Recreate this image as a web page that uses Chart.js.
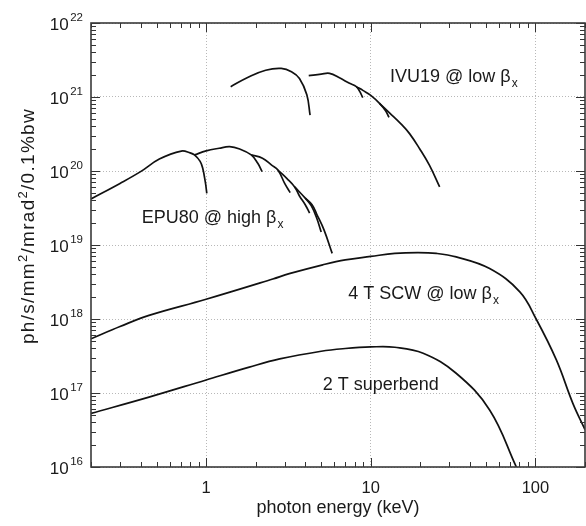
<!DOCTYPE html>
<html><head><meta charset="utf-8">
<script src="https://cdn.jsdelivr.net/npm/chart.js@4.4.1/dist/chart.umd.min.js"></script>
<style>html,body{margin:0;padding:0;background:#fff}#wrap{width:586px;height:526px;position:relative}</style>
</head><body><div id="wrap"><canvas id="c" width="586" height="526"></canvas></div>
<script>
// ---- axis ticks ----
const xDecades = [1, 10, 100];
const xTickLabels = ['1', '10', '100'];
const yDecades = [1e16, 1e17, 1e18, 1e19, 1e20, 1e21, 1e22];
const yExponents = ['16', '17', '18', '19', '20', '21', '22'];
const xTitle = 'photon energy (keV)';

// ---- EPU80 harmonics (photon energy keV, brightness) ----
const epu1E = [0.2, 0.3, 0.4, 0.52, 0.707, 0.8, 0.85, 0.92, 0.954, 0.99, 1.01];
const epu1B = [4.2e19, 6.8e19, 9.8e19, 1.45e20, 1.86e20, 1.76e20, 1.65e20, 1.35e20, 1.09e20, 7.0e19, 5.0e19];
const epu2E = [0.85, 1.0, 1.2, 1.39, 1.6, 1.88, 2.06, 2.19];
const epu2B = [1.65e20, 1.87e20, 2.03e20, 2.13e20, 1.98e20, 1.65e20, 1.27e20, 9.8e19];
const epu3E = [1.88, 2.2, 2.5, 2.73, 3.0, 3.24];
const epu3B = [1.65e20, 1.49e20, 1.2e20, 1.03e20, 6.8e19, 5.1e19];
const epu4E = [2.73, 3.1, 3.45, 3.69, 4.0, 4.25];
const epu4B = [1.03e20, 7.9e19, 6.1e19, 4.6e19, 3.5e19, 2.7e19];
const epu5E = [3.45, 4.0, 4.35, 4.7, 5.0];
const epu5B = [6.1e19, 4.3e19, 3.4e19, 2.3e19, 1.5e19];
const epu6E = [4.0, 4.4, 4.7, 5.2, 5.83];
const epu6B = [4.3e19, 3.5e19, 2.6e19, 1.6e19, 7.7e18];

// ---- IVU19 harmonics ----
const ivu1E = [1.41, 1.8, 2.3, 2.86, 3.3, 3.69, 4.09, 4.28];
const ivu1B = [1.38e21, 1.85e21, 2.3e21, 2.43e21, 2.2e21, 1.78e21, 1.07e21, 5.7e20];
const ivu2E = [4.2, 5.0, 5.62, 6.5, 7.43, 8.17, 8.55, 8.94];
const ivu2B = [1.94e21, 2.04e21, 2.09e21, 1.8e21, 1.53e21, 1.38e21, 1.2e21, 9.8e20];
const ivu3E = [8.17, 9.0, 10, 11.3, 12.3, 12.9];
const ivu3B = [1.38e21, 1.22e21, 1.05e21, 8.2e20, 6.5e20, 5.3e20];
const ivu4E = [11.3, 13, 15.3, 17.2, 19.8, 22.7, 26.2];
const ivu4B = [8.2e20, 6.1e20, 4.3e20, 3.2e20, 2.0e20, 1.2e20, 6.1e19];

// ---- 4 T superconducting wiggler ----
const scwE = [0.2, 0.3, 0.45, 1, 2.54, 3.2, 5.11, 7, 10, 14, 19.3, 25, 33, 52.7, 80.4, 101, 134, 169, 200];
const scwB = [5.4e17, 7.9e17, 1.12e18, 1.85e18, 3.47e18, 4.1e18, 5.4e18, 6.3e18, 7.0e18, 7.7e18, 7.9e18, 7.7e18, 6.9e18, 4.8e18, 2.33e18, 1.0e18, 2.8e17, 7.2e16, 3.2e16];

// ---- 2 T superbend ----
const sbE = [0.2, 0.45, 1, 1.83, 2.8, 5, 7, 10, 14, 20.8, 33, 52.7, 76.6];
const sbB = [5.3e16, 8.8e16, 1.5e17, 2.24e17, 2.89e17, 3.67e17, 3.99e17, 4.19e17, 4.15e17, 3.45e17, 1.85e17, 5.9e16, 1.0e16];

// ---- labels ----
const curveLabels = [
  {text: 'IVU19 @ low β', sub: 'x', x: 390, y: 82},
  {text: 'EPU80 @ high β', sub: 'x', x: 141.7, y: 223.3},
  {text: '4 T SCW @ low β', sub: 'x', x: 348.3, y: 299.3},
  {text: '2 T superbend', sub: '', x: 322.7, y: 390}
];

const FONT = "'Liberation Sans', Arial, Helvetica, sans-serif";
const pts = (xs, ys) => xs.map((v, i) => ({x: v, y: ys[i]}));
const series = [
  [epu1E, epu1B], [epu2E, epu2B], [epu3E, epu3B], [epu4E, epu4B], [epu5E, epu5B], [epu6E, epu6B],
  [ivu1E, ivu1B], [ivu2E, ivu2B], [ivu3E, ivu3B], [ivu4E, ivu4B],
  [scwE, scwB], [sbE, sbB]
];
const datasets = series.map(([e, b]) => ({
  data: pts(e, b),
  borderColor: '#111',
  borderWidth: 1.7,
  pointRadius: 0,
  fill: false,
  tension: 0.4
}));

const decor = {
  id: 'decor',
  afterDraw(chart) {
    const {ctx, chartArea: a} = chart;
    const sx = chart.scales.x, sy = chart.scales.y;
    ctx.save();
    // inward ticks
    ctx.strokeStyle = '#333';
    ctx.lineWidth = 1;
    for (let d = 0.1; d <= 1000; d *= 10) {
      for (let m = 1; m <= 9; m++) {
        const v = m * d;
        if (v < sx.min * 0.999 || v > sx.max * 1.001) continue;
        const px = Math.round(sx.getPixelForValue(v)) + 0.5;
        const len = m === 1 ? 9 : 5;
        ctx.beginPath();
        ctx.moveTo(px, a.bottom); ctx.lineTo(px, a.bottom - len);
        ctx.moveTo(px, a.top); ctx.lineTo(px, a.top + len);
        ctx.stroke();
      }
    }
    for (let e = 16; e <= 22; e++) {
      for (let m = 1; m <= 9; m++) {
        const v = m * Math.pow(10, e);
        if (v < sy.min * 0.999 || v > sy.max * 1.001) continue;
        const py = Math.round(sy.getPixelForValue(v)) + 0.5;
        const len = m === 1 ? 9 : 5;
        ctx.beginPath();
        ctx.moveTo(a.left, py); ctx.lineTo(a.left + len, py);
        ctx.moveTo(a.right, py); ctx.lineTo(a.right - len, py);
        ctx.stroke();
      }
    }
    // frame
    ctx.strokeStyle = '#3a3a3a';
    ctx.lineWidth = 1.6;
    ctx.strokeRect(a.left, a.top, a.right - a.left, a.bottom - a.top);

    ctx.fillStyle = '#1a1a1a';
    // x tick labels
    ctx.font = '16.5px ' + FONT;
    ctx.textAlign = 'center';
    ctx.textBaseline = 'alphabetic';
    xDecades.forEach((v, i) => {
      ctx.fillText(xTickLabels[i], sx.getPixelForValue(v), 493);
    });
    // y tick labels 10^n
    yDecades.forEach((v, i) => {
      const py = sy.getPixelForValue(v);
      ctx.font = '11.5px ' + FONT;
      const we = ctx.measureText(yExponents[i]).width;
      ctx.textAlign = 'left';
      ctx.fillText(yExponents[i], 83 - we, py - 1.7);
      ctx.font = '17px ' + FONT;
      ctx.textAlign = 'right';
      ctx.fillText('10', 83 - we - 1.5, py + 7);
    });
    // x title
    ctx.font = '18px ' + FONT;
    ctx.textAlign = 'center';
    ctx.fillText(xTitle, 338, 513);
    // y title with superscripts
    const parts = [['ph/s/mm', 0], ['2', 1], ['/mrad', 0], ['2', 1], ['/0.1%bw', 0]];
    ctx.save();
    ctx.translate(34, 226);
    ctx.rotate(-Math.PI / 2);
    ctx.textAlign = 'left';
    let total = 0, nch = 0;
    const fontOf = s => (s ? '13px ' : '19px ') + FONT;
    parts.forEach(([t, s]) => { ctx.font = fontOf(s); total += ctx.measureText(t).width; nch += t.length; });
    const target = 236;
    let sp = 0;
    if ('letterSpacing' in ctx) sp = Math.max(0, (target - total) / nch);
    const full = total + sp * nch;
    let cx = -full / 2;
    parts.forEach(([t, s]) => {
      ctx.font = fontOf(s);
      if ('letterSpacing' in ctx) ctx.letterSpacing = sp + 'px';
      ctx.fillText(t, cx, s ? -7.5 : 0);
      cx += ctx.measureText(t).width;
    });
    if ('letterSpacing' in ctx) ctx.letterSpacing = '0px';
    ctx.restore();
    // curve labels
    curveLabels.forEach(l => {
      ctx.font = '18px ' + FONT;
      ctx.textAlign = 'left';
      ctx.fillText(l.text, l.x, l.y);
      if (l.sub) {
        const w = ctx.measureText(l.text).width;
        ctx.font = '12px ' + FONT;
        ctx.fillText(l.sub, l.x + w + 1, l.y + 5);
      }
    });
    ctx.restore();
  }
};

const gridColor = '#b8b8b8';
new Chart(document.getElementById('c'), {
  type: 'line',
  data: {datasets},
  options: {
    responsive: false,
    animation: false,
    devicePixelRatio: 1,
    layout: {padding: {left: 0, right: 1, top: 23, bottom: 0}},
    plugins: {legend: {display: false}, tooltip: {enabled: false}},
    scales: {
      x: {
        type: 'logarithmic', min: 0.2, max: 200,
        afterBuildTicks: s => { s.ticks = xDecades.map(v => ({value: v})); },
        afterFit: s => { s.height = 59; },
        ticks: {display: false},
        grid: {color: gridColor, lineWidth: 1, drawTicks: false},
        border: {display: false, dash: [1, 2]}
      },
      y: {
        type: 'logarithmic', min: 1e16, max: 1e22,
        afterBuildTicks: s => { s.ticks = yDecades.map(v => ({value: v})); },
        afterFit: s => { s.width = 91; },
        ticks: {display: false},
        grid: {color: gridColor, lineWidth: 1, drawTicks: false},
        border: {display: false, dash: [1, 2]}
      }
    }
  },
  plugins: [decor]
});
</script>
</body></html>
